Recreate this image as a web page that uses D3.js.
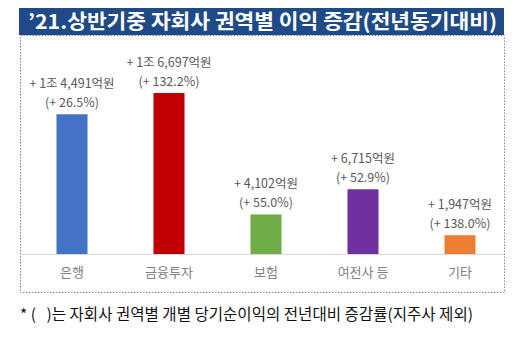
<!DOCTYPE html>
<html><head><meta charset="utf-8">
<script src="https://cdn.jsdelivr.net/npm/d3@7"></script>
<style>body{margin:0;background:#fff}svg{display:block}text{white-space:pre}</style>
</head><body>
<script>
const categories = ["은행", "금융투자", "보험", "여전사 등", "기타"];
const values = [14491, 16697, 4102, 6715, 1947];
const amountLabels = ["+ 1조 4,491억원", "+ 1조 6,697억원", "+ 4,102억원", "+ 6,715억원", "+ 1,947억원"];
const pctLabels = ["(+ 26.5%)", "(+ 132.2%)", "(+ 55.0%)", "(+ 52.9%)", "(+ 138.0%)"];
const colors = ["#4472C4", "#C00000", "#70AD47", "#7030A0", "#ED7D31"];
const titleText = "’21.상반기중 자회사 권역별 이익 증감(전년동기대비)";
const footnote = "* (   )는 자회사 권역별 개별 당기순이익의 전년대비 증감률(지주사 제외)";

const W = 512, H = 346;
const svg = d3.select("body").append("svg").attr("width", W).attr("height", H);
const font = "'Noto Sans CJK KR', 'Noto Sans', sans-serif";

// dashed frame
svg.append("rect").attr("x", 20.5).attr("y", 35.5).attr("width", 484).attr("height", 257)
  .attr("fill", "none").attr("stroke", "#888").attr("stroke-dasharray", "1.5,1.5").attr("stroke-width", 1);

// title bar
svg.append("rect").attr("x", 19).attr("y", 8).attr("width", 485).attr("height", 27).attr("fill", "#204A87");
svg.append("text").attr("x", 28).attr("y", 28.5).attr("fill", "#fff")
  .attr("font-family", font).attr("font-weight", "bold").attr("font-size", 20)
  .attr("textLength", 469).attr("lengthAdjust", "spacingAndGlyphs").text(titleText);

const baseY = 254;
const x = d3.scaleBand().domain(categories).range([23.5, 508.5]).paddingInner(0.68).paddingOuter(0.34);
const y = d3.scaleLinear().domain([0, 16697]).range([baseY, 93]);

// axis line
svg.append("line").attr("x1", 22).attr("x2", 503).attr("y1", baseY + 0.5).attr("y2", baseY + 0.5)
  .attr("stroke", "#d9d9d9").attr("stroke-width", 1);

const g = svg.append("g");
g.selectAll("rect.bar").data(values).join("rect").attr("class", "bar")
  .attr("x", (d, i) => x(categories[i])).attr("width", x.bandwidth())
  .attr("y", d => y(d)).attr("height", d => baseY - y(d))
  .attr("fill", (d, i) => colors[i]);

g.selectAll("text.amt").data(values).join("text").attr("class", "amt")
  .attr("x", (d, i) => x(categories[i]) + x.bandwidth() / 2)
  .attr("y", d => y(d) - 26).attr("text-anchor", "middle")
  .attr("font-family", font).attr("font-size", 12.5).attr("fill", "#595959")
  .text((d, i) => amountLabels[i]);

g.selectAll("text.pct").data(values).join("text").attr("class", "pct")
  .attr("x", (d, i) => x(categories[i]) + x.bandwidth() / 2)
  .attr("y", d => y(d) - 7).attr("text-anchor", "middle")
  .attr("font-family", font).attr("font-size", 12.5).attr("fill", "#595959")
  .text((d, i) => pctLabels[i]);

// category axis labels
const xAxis = d3.axisBottom(x).tickSize(0).tickPadding(14);
const ax = svg.append("g").attr("transform", `translate(0,${baseY})`).call(xAxis);
ax.select(".domain").remove();
ax.selectAll("text").attr("font-family", font).attr("font-size", 13).attr("fill", "#808080");

// footnote
svg.append("text").attr("x", 20).attr("y", 320).attr("font-family", font).attr("font-size", 15.5)
  .attr("fill", "#111").attr("textLength", 453).attr("lengthAdjust", "spacingAndGlyphs").text(footnote);
</script>
</body></html>
